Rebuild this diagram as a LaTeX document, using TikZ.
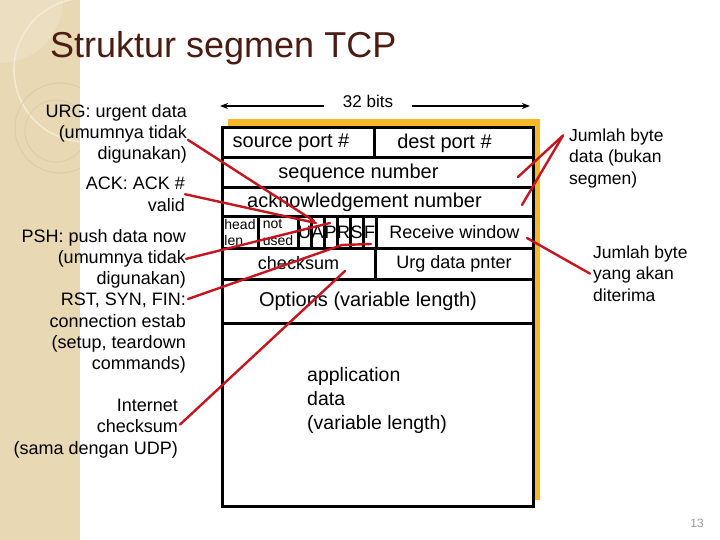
\documentclass[tikz,border=0pt]{standalone}
\usepackage{fontspec}
\setmainfont{Liberation Sans}
\usepackage{xcolor}
\usetikzlibrary{arrows.meta,positioning}
\definecolor{strip}{HTML}{E8D8B3}
\definecolor{striplight}{HTML}{ECDFC1}
\definecolor{stripline}{HTML}{F3EAD6}
\definecolor{stripring}{HTML}{DCCBA4}
\definecolor{titlebrown}{HTML}{4A1C12}
\definecolor{gold}{HTML}{F6B828}
\definecolor{pointer}{HTML}{C3161F}
\definecolor{pagegray}{HTML}{9A9A9A}
\tikzset{
  slide/.style={x=1pt, y=-1pt, line join=miter},
  field/.style={
    draw=black,
    line width=3pt,
    fill=white,
    inner sep=0pt,
    outer sep=0pt,
    anchor=north west,
    font=\fontsize{20}{24}\selectfont
  },
  midfield/.style={field, font=\fontsize{18}{21}\selectfont},
  tinyfield/.style={field, align=left, font=\fontsize{14}{16.5}\selectfont},
  flagfield/.style={midfield, minimum width=13pt, minimum height=31pt},
  sidenote/.style={inner sep=0pt, font=\fontsize{18}{21.3}\selectfont},
  rightnote/.style={inner sep=0pt, align=left, anchor=north west, font=\fontsize{17.5}{21.5}\selectfont},
  pointerline/.style={draw=pointer, line width=2.4pt, line cap=round, line join=round},
  bitsarrow/.style={-{Stealth[length=8pt,width=6pt]}, draw=black, line width=1.8pt}
}
\begin{document}
\begin{tikzpicture}[slide]
\useasboundingbox (0,0) rectangle (720,540);
\fill[white] (0,0) rectangle (720,540);
\fill[strip] (0,0) rectangle (80,540);
\begin{scope}
\clip (0,0) rectangle (80,540);
\fill[striplight] (0,0) circle (63);
\draw[stripline, line width=1.6pt] (86,70) circle (72);
\draw[stripring, line width=0.8pt] (60,128) circle (45);
\draw[stripring, line width=0.8pt] (56,131) circle (31);
\end{scope}

\node[anchor=base west, inner sep=0pt, text=titlebrown, font=\fontsize{36}{40}\selectfont] (title) at (50,58) {Struktur segmen TCP};

\node[inner sep=0pt, inner xsep=19pt, font=\fontsize{17}{20}\selectfont] (bits) at (368,101) {32 bits};
\coordinate (bitsleft) at (220,106);
\coordinate (bitsright) at (530,106);
\draw[bitsarrow] (bits.west |- bitsleft) -- (bitsleft);
\draw[bitsarrow] (bits.east |- bitsright) -- (bitsright);

\fill[gold] (228,119) rectangle (540,500);

\node[field, minimum width=152pt, minimum height=30pt] (srcport) at (222,128) {source port \#\hspace*{14pt}};
\node[field, minimum width=159pt, minimum height=30pt, right=0pt of srcport] (dstport) {dest port \#\hspace*{18pt}};
\node[field, minimum width=311pt, minimum height=30pt, below=0pt of srcport.south west, anchor=north west] (seqnum) {sequence number\hspace*{38pt}};
\node[field, minimum width=311pt, minimum height=29pt, below=0pt of seqnum.south west, anchor=north west] (acknum) {acknowledgement number\hspace*{26pt}};
\node[tinyfield, minimum width=36pt, minimum height=31pt, below=0pt of acknum.south west, anchor=north west] (headlen) {head\\len};
\node[tinyfield, minimum width=40pt, minimum height=31pt, right=0pt of headlen] (notused) {not\\used};
\foreach \f [count=\i] in {U,A,P,R,S,F}
  \node[flagfield] (flag\i) at ({285+13*\i},217) {\f};
\node[midfield, minimum width=157pt, minimum height=31pt, right=0pt of flag6] (rcvwin) {Receive window};
\node[midfield, minimum width=153pt, minimum height=31pt, below=0pt of headlen.south west, anchor=north west] (cksum) {checksum};
\node[midfield, minimum width=158pt, minimum height=31pt, right=0pt of cksum] (urgptr) {Urg data pnter};
\node[field, minimum width=311pt, minimum height=44pt, below=0pt of cksum.south west, anchor=north west] (options) {Options (variable length)\hspace*{19pt}};
\node[field, minimum width=311pt, minimum height=183pt, below=0pt of options.south west, anchor=north west] (appdata) {};
\node[inner sep=0pt, align=left, anchor=north west, font=\fontsize{19.5}{24}\selectfont] (apptext) at (307,367) {application\\data\\(variable length)};

\node[sidenote, align=right, anchor=north east] (urglbl) at (187,104) {URG: urgent data\\(umumnya tidak\\digunakan)};
\node[sidenote, align=right, anchor=north east] (acklbl) at (185,177) {ACK: ACK \#\\valid};
\node[sidenote, align=right, anchor=north east] (pshlbl) at (186,229) {PSH: push data now\\(umumnya tidak\\digunakan)};
\node[sidenote, align=right, anchor=north east] (rstlbl) at (186,293) {RST, SYN, FIN:\\connection estab\\(setup, teardown\\commands)};
\node[sidenote, align=right, anchor=north east] (inetlbl) at (178,399) {Internet\\checksum\\(sama dengan UDP)};

\node[rightnote] (jmldata) at (569,128.5) {Jumlah byte\\data (bukan\\segmen)};
\node[rightnote] (jmlrecv) at (593,245.5) {Jumlah byte\\yang akan\\diterima};

\node[inner sep=0pt, text=pagegray, font=\fontsize{12}{14}\selectfont] (pagenum) at (697,523) {13};

\coordinate (urgtip) at (314,221);
\coordinate (acktip) at (316,223);
\coordinate (pshtip) at (330,223);
\coordinate (rstbend) at (342,245);
\coordinate (rsttip) at (371,244);
\coordinate (cksumtip) at (345,271);
\coordinate (seqtip) at (518,177);
\coordinate (acknumtip) at (522,205);
\coordinate (rcvtip) at (527,238);

\draw[pointerline] ([shift={(1pt,-6pt)}]urglbl.east) -- (urgtip);
\draw[pointerline] (acklbl.east) -- (acktip);
\draw[pointerline] (pshlbl.east) -- (pshtip);
\draw[pointerline] ([shift={(2pt,-6pt)}]rstlbl.north east) -- (rstbend) -- (rsttip);
\draw[pointerline] ([shift={(2pt,4pt)}]inetlbl.east) -- (cksumtip);
\draw[pointerline] ([shift={(-6pt,-7pt)}]jmldata.north west) -- (seqtip);
\draw[pointerline] ([shift={(-6pt,-7pt)}]jmldata.north west) -- (acknumtip);
\draw[pointerline] ([xshift=-3pt]jmlrecv.west) -- (rcvtip);
\end{tikzpicture}
\end{document}
